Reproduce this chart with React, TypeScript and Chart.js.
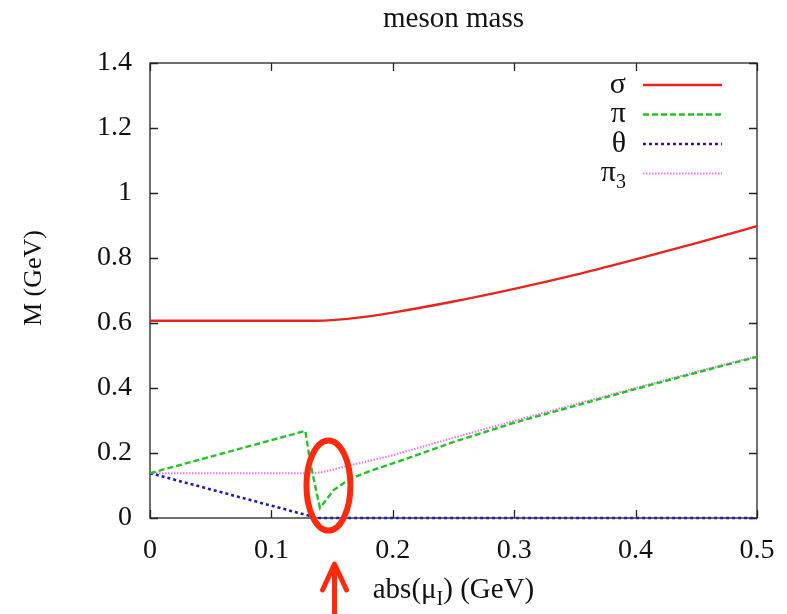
import React, { useEffect, useRef } from 'react';
import { Chart, registerables } from 'chart.js';

Chart.register(...registerables);

const TITLE = 'meson mass';
const Y_TITLE = 'M (GeV)';
const X_TITLE_PARTS = ['abs(μ', 'I', ') (GeV)'];
const X_TICKS = [0, 0.1, 0.2, 0.3, 0.4, 0.5];
const Y_TICKS = [0, 0.2, 0.4, 0.6, 0.8, 1, 1.2, 1.4];
const SERIES_LABELS = ['σ', 'π', 'θ', 'π₃'];

const muSigma = [0, 0.05, 0.1, 0.138, 0.15, 0.175, 0.2, 0.25, 0.3, 0.35, 0.4, 0.45, 0.5];
const mSigma = [0.607, 0.607, 0.607, 0.607, 0.609, 0.618, 0.632, 0.666, 0.705, 0.748, 0.796, 0.846, 0.898];

const muPi = [0, 0.128, 0.132, 0.14, 0.145, 0.151, 0.163, 0.18, 0.2, 0.25, 0.3, 0.35, 0.4, 0.45, 0.5];
const mPi = [0.138, 0.268, 0.17, 0.031, 0.055, 0.085, 0.117, 0.143, 0.168, 0.234, 0.293, 0.345, 0.397, 0.447, 0.496];

const muTheta = [0, 0.138, 0.5];
const mTheta = [0.138, 0, 0];

const muPi3 = [0, 0.135, 0.14, 0.15, 0.16, 0.18, 0.2, 0.25, 0.3, 0.35, 0.4, 0.45, 0.5];
const mPi3 = [0.138, 0.138, 0.14, 0.148, 0.158, 0.175, 0.193, 0.247, 0.299, 0.35, 0.4, 0.45, 0.498];

// annotation (red ellipse + arrow) anchored in data coordinates
const MARK_CENTER = { x: 0.147, y: 0.1 };
const ARROW_X = 0.152;

const FONT = 'Liberation Serif, Times New Roman, serif';

const toXY = (xs: number[], ys: number[]) => xs.map((x, i) => ({ x, y: ys[i] }));

const fmt = (v: number) => String(Number(v.toFixed(1)));

const decorPlugin = {
  id: 'decor',
  beforeDatasetsDraw(chart: any) {
    const { ctx, chartArea } = chart;
    const { left, right, top, bottom } = chartArea;
    const xs = chart.scales.x;
    const ys = chart.scales.y;
    ctx.save();
    ctx.strokeStyle = '#222';
    ctx.lineWidth = 1.3;
    ctx.strokeRect(left, top, right - left, bottom - top);
    ctx.beginPath();
    X_TICKS.forEach((v) => {
      const px = Math.round(xs.getPixelForValue(v)) + 0.5;
      ctx.moveTo(px, bottom);
      ctx.lineTo(px, bottom - 8);
      ctx.moveTo(px, top);
      ctx.lineTo(px, top + 8);
    });
    Y_TICKS.forEach((v) => {
      const py = Math.round(ys.getPixelForValue(v)) + 0.5;
      ctx.moveTo(left, py);
      ctx.lineTo(left + 8, py);
      ctx.moveTo(right, py);
      ctx.lineTo(right - 8, py);
    });
    ctx.stroke();
    ctx.restore();
  },
  afterDraw(chart: any) {
    const { ctx, chartArea } = chart;
    const { left, right, top, bottom } = chartArea;
    const xs = chart.scales.x;
    const ys = chart.scales.y;
    ctx.save();

    // legend
    chart.data.datasets.forEach((ds: any, i: number) => {
      const rowY = top + 22 + i * 29.5;
      ctx.strokeStyle = ds.borderColor;
      ctx.lineWidth = ds.borderWidth;
      ctx.setLineDash(ds.borderDash || []);
      ctx.beginPath();
      ctx.moveTo(right - 114, rowY);
      ctx.lineTo(right - 35, rowY);
      ctx.stroke();
      ctx.setLineDash([]);
      ctx.fillStyle = '#111';
      ctx.textBaseline = 'middle';
      ctx.textAlign = 'left';
      const label: string = ds.label;
      const m = label.match(/^(.*?)([₀-₉])$/);
      const tx = right - 131;
      if (m) {
        const base = m[1];
        const sub = String('₀₁₂₃₄₅₆₇₈₉'.indexOf(m[2]));
        ctx.font = `30px ${FONT}`;
        const wb = ctx.measureText(base).width;
        ctx.font = `20px ${FONT}`;
        const ws = ctx.measureText(sub).width;
        ctx.font = `30px ${FONT}`;
        ctx.fillText(base, tx - wb - ws, rowY);
        ctx.font = `20px ${FONT}`;
        ctx.fillText(sub, tx - ws, rowY + 9);
      } else {
        ctx.font = `30px ${FONT}`;
        ctx.textAlign = 'right';
        ctx.fillText(label, tx, rowY);
      }
    });

    // x axis title with subscript
    ctx.fillStyle = '#111';
    ctx.textBaseline = 'alphabetic';
    ctx.textAlign = 'left';
    ctx.font = `29px ${FONT}`;
    const w0 = ctx.measureText(X_TITLE_PARTS[0]).width;
    const w2 = ctx.measureText(X_TITLE_PARTS[2]).width;
    ctx.font = `20px ${FONT}`;
    const w1 = ctx.measureText(X_TITLE_PARTS[1]).width;
    const total = w0 + w1 + w2;
    const cx = (left + right) / 2;
    const x0 = cx - total / 2;
    const base = bottom + 80;
    ctx.font = `29px ${FONT}`;
    ctx.fillText(X_TITLE_PARTS[0], x0, base);
    ctx.font = `20px ${FONT}`;
    ctx.fillText(X_TITLE_PARTS[1], x0 + w0, base + 7);
    ctx.font = `29px ${FONT}`;
    ctx.fillText(X_TITLE_PARTS[2], x0 + w0 + w1, base);

    // y axis title
    ctx.save();
    ctx.translate(34, top + 215);
    ctx.rotate(-Math.PI / 2);
    ctx.textAlign = 'center';
    ctx.textBaseline = 'middle';
    ctx.font = `26px ${FONT}`;
    ctx.fillText(Y_TITLE, 0, 0);
    ctx.restore();

    // red ellipse annotation
    const ecx = xs.getPixelForValue(MARK_CENTER.x);
    const ecy = ys.getPixelForValue(MARK_CENTER.y);
    ctx.strokeStyle = '#ff2a0c';
    ctx.lineWidth = 6;
    ctx.beginPath();
    ctx.ellipse(ecx, ecy, 22, 45, 0, 0, Math.PI * 2);
    ctx.stroke();

    // red arrow
    const ax = xs.getPixelForValue(ARROW_X);
    const tipY = bottom + 46;
    ctx.lineWidth = 5;
    ctx.lineCap = 'round';
    ctx.lineJoin = 'round';
    ctx.beginPath();
    ctx.moveTo(ax, chart.height + 2);
    ctx.lineTo(ax, tipY + 2);
    ctx.moveTo(ax - 12, tipY + 26);
    ctx.lineTo(ax, tipY);
    ctx.lineTo(ax + 12, tipY + 26);
    ctx.stroke();

    ctx.restore();
  },
};

export default function App() {
  const ref = useRef<HTMLCanvasElement | null>(null);

  useEffect(() => {
    document.body.style.margin = '0';
    const canvas = ref.current;
    if (!canvas) return;
    const chart = new Chart(canvas, {
      type: 'line',
      data: {
        datasets: [
          {
            label: SERIES_LABELS[0],
            data: toXY(muSigma, mSigma),
            borderColor: '#e8241c',
            borderWidth: 2.4,
            pointRadius: 0,
            cubicInterpolationMode: 'monotone',
            fill: false,
            clip: 6,
          },
          {
            label: SERIES_LABELS[1],
            data: toXY(muPi, mPi),
            borderColor: '#22c322',
            borderWidth: 2.4,
            borderDash: [6, 3],
            pointRadius: 0,
            tension: 0,
            fill: false,
            clip: 6,
          },
          {
            label: SERIES_LABELS[2],
            data: toXY(muTheta, mTheta),
            borderColor: '#1c1cb8',
            borderWidth: 2.6,
            borderDash: [3, 3],
            pointRadius: 0,
            tension: 0,
            fill: false,
            clip: 6,
          },
          {
            label: SERIES_LABELS[3],
            data: toXY(muPi3, mPi3),
            borderColor: '#ee6fee',
            borderWidth: 2,
            borderDash: [1.5, 1.5],
            pointRadius: 0,
            tension: 0,
            fill: false,
            clip: 6,
          },
        ],
      },
      options: {
        animation: false,
        responsive: false,
        maintainAspectRatio: false,
        devicePixelRatio: 1,
        layout: { padding: { left: 0, right: 30, top: 0, bottom: 0 } },
        plugins: {
          legend: { display: false },
          tooltip: { enabled: false },
          title: {
            display: true,
            text: TITLE,
            fullSize: false,
            color: '#111',
            font: { family: FONT, size: 29, weight: 'normal' },
            padding: { top: 2, bottom: 26.2 },
          },
        },
        scales: {
          x: {
            type: 'linear',
            min: 0,
            max: 0.5,
            afterBuildTicks: (s: any) => {
              s.ticks = X_TICKS.map((v) => ({ value: v }));
            },
            afterFit: (s: any) => {
              s.height = 96;
              s.paddingLeft = 0;
              s.paddingRight = 0;
            },
            grid: { display: false, drawTicks: false },
            border: { display: false },
            ticks: {
              color: '#111',
              font: { family: FONT, size: 28 },
              padding: 16,
              maxRotation: 0,
              callback: (v: any) => fmt(Number(v)),
            },
          },
          y: {
            type: 'linear',
            min: 0,
            max: 1.4,
            afterBuildTicks: (s: any) => {
              s.ticks = Y_TICKS.map((v) => ({ value: v }));
            },
            afterFit: (s: any) => {
              s.width = 150;
              s.paddingTop = 0;
              s.paddingBottom = 0;
            },
            grid: { display: false, drawTicks: false },
            border: { display: false },
            ticks: {
              color: '#111',
              font: { family: FONT, size: 28 },
              padding: 18,
              callback: (v: any) => fmt(Number(v)),
            },
          },
        },
      },
      plugins: [decorPlugin],
    } as any);
    return () => chart.destroy();
  }, []);

  return (
    <div style={{ position: 'relative', width: 787, height: 614 }}>
      <canvas ref={ref} width={787} height={614} style={{ display: 'block', width: 787, height: 614 }} />
    </div>
  );
}
